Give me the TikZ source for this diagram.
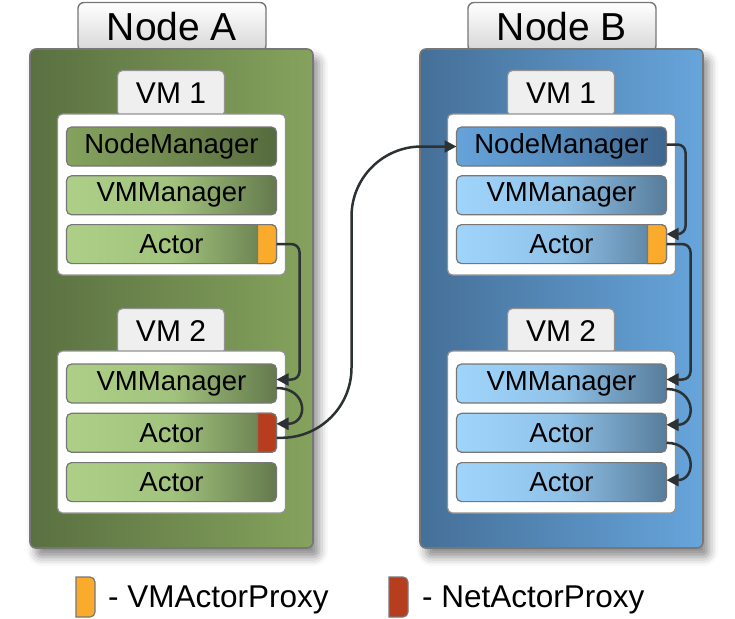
\documentclass[tikz,border=0pt]{standalone}
\usepackage{fontspec}
\setmainfont{Liberation Sans}
\usetikzlibrary{arrows.meta,positioning,shadows.blur}
\definecolor{frameGray}{HTML}{777777}
\definecolor{linkGray}{HTML}{2C3133}
\definecolor{vmTab}{HTML}{EFEFEF}
\definecolor{hostGreenL}{HTML}{5A7041}
\definecolor{hostGreenR}{HTML}{85A35D}
\definecolor{hostBlueL}{HTML}{456F97}
\definecolor{hostBlueR}{HTML}{67A5DC}
\definecolor{greenHiL}{HTML}{84A35E}
\definecolor{greenHiM}{HTML}{71894F}
\definecolor{greenHiR}{HTML}{566B3E}
\definecolor{greenLoL}{HTML}{ADCF87}
\definecolor{greenLoM}{HTML}{A2C37D}
\definecolor{greenLoR}{HTML}{64794C}
\definecolor{blueHiL}{HTML}{66A3DA}
\definecolor{blueHiM}{HTML}{558BBD}
\definecolor{blueHiR}{HTML}{3F668D}
\definecolor{blueLoL}{HTML}{A0D5FB}
\definecolor{blueLoM}{HTML}{90C2E8}
\definecolor{blueLoR}{HTML}{577C9B}
\definecolor{proxyOrange}{HTML}{FBAB2C}
\definecolor{proxyRed}{HTML}{B73D1F}
\tikzset{
  host box/.style={draw=frameGray, line width=1.6pt, rounded corners=6pt,
    minimum width=283pt, minimum height=499pt, outer sep=0pt,
    blur shadow={shadow xshift=6pt, shadow yshift=-9pt,
      shadow blur radius=9pt, shadow opacity=45}},
  green host/.style={host box, left color=hostGreenL, right color=hostGreenR},
  blue host/.style={host box, left color=hostBlueL, right color=hostBlueR},
  host tab/.style={draw=frameGray, line width=1.4pt, rounded corners=6pt,
    top color=white, bottom color=black!16, minimum width=188pt,
    minimum height=49pt, outer sep=0pt, font=\fontsize{39}{44}\selectfont},
  vm box/.style={draw=frameGray!80, line width=1.2pt, fill=white,
    rounded corners=5pt, minimum width=228pt, outer sep=0pt},
  vm tab/.style={draw=frameGray!80, line width=1.2pt, fill=vmTab,
    rounded corners=5pt, minimum width=107pt, minimum height=46pt,
    outer sep=0pt, font=\fontsize{30}{34}\selectfont},
  unit/.style={draw=frameGray, line width=1.2pt, rounded corners=5pt,
    minimum width=210pt, minimum height=39pt, inner sep=0pt, outer sep=0pt,
    font=\fontsize{27.5}{31}\selectfont},
  green hi/.style={unit, left color=greenHiL, right color=greenHiR, middle color=greenHiM},
  green lo/.style={unit, left color=greenLoL, right color=greenLoR, middle color=greenLoM},
  blue hi/.style={unit, left color=blueHiL, right color=blueHiR, middle color=blueHiM},
  blue lo/.style={unit, left color=blueLoL, right color=blueLoR, middle color=blueLoM},
  proxy/.style={draw=frameGray, line width=1.2pt},
  key mark/.style={minimum width=19pt, minimum height=40pt, inner sep=0pt, outer sep=0pt},
  key text/.style={font=\fontsize{31.5}{35}\selectfont, inner sep=0pt, text depth=0pt},
  link/.style={-{Triangle[length=12pt,width=12pt]}, line width=2.5pt, draw=linkGray}
}
% proxy tab on the right end of a unit
\newcommand{\proxymark}[2]{%
  \draw[proxy, fill=#2] ([xshift=-19pt]#1.north east) -- ([xshift=-5pt]#1.north east)
    arc[start angle=90, end angle=0, radius=5pt] -- ([yshift=5pt]#1.south east)
    arc[start angle=0, end angle=-90, radius=5pt] -- ([xshift=-19pt]#1.south east) -- cycle;}
\begin{document}
\begin{tikzpicture}[x=1pt, y=1pt, node distance=9.8pt]
  \useasboundingbox (0,0) rectangle (735,-618);
  % Node A
  \node[host tab] (tabA) at (172,-27) {Node A};
  \node[green host] (hostA) at (171.5,-298.5) {};
  \node[vm tab] (vmtabA1) at (171,-93.5) {VM 1};
  \node[vm box, minimum height=161pt, below=65pt of hostA.north] (vmA1) {};
  \node[vm tab] (vmtabA2) at (171,-331.5) {VM 2};
  \node[vm box, minimum height=162pt, below=76pt of vmA1] (vmA2) {};
  \node[green hi, below=13pt of vmA1.north] (nmA1) {NodeManager};
  \node[green lo, below=of nmA1] (vmmA1) {VMManager};
  \node[green lo, below=of vmmA1] (actA1) {Actor};
  \node[green lo, below=13pt of vmA2.north] (vmmA2) {VMManager};
  \node[green lo, below=10.3pt of vmmA2] (actA2) {Actor};
  \node[green lo, below=10.3pt of actA2] (actA3) {Actor};
  \proxymark{actA1}{proxyOrange}
  \proxymark{actA2}{proxyRed}
  % Node B
  \node[host tab] (tabB) at (562,-27) {Node B};
  \node[blue host] (hostB) at (561.5,-298.5) {};
  \node[vm tab] (vmtabB1) at (561,-93.5) {VM 1};
  \node[vm box, minimum height=161pt, below=65pt of hostB.north] (vmB1) {};
  \node[vm tab] (vmtabB2) at (561,-331.5) {VM 2};
  \node[vm box, minimum height=162pt, below=76pt of vmB1] (vmB2) {};
  \node[blue hi, below=13pt of vmB1.north] (nmB1) {NodeManager};
  \node[blue lo, below=of nmB1] (vmmB1) {VMManager};
  \node[blue lo, below=of vmmB1] (actB1) {Actor};
  \node[blue lo, below=13pt of vmB2.north] (vmmB2) {VMManager};
  \node[blue lo, below=10.3pt of vmmB2] (actB2) {Actor};
  \node[blue lo, below=10.3pt of actB2] (actB3) {Actor};
  \proxymark{actB1}{proxyOrange}
  % messages
  \draw[link, rounded corners=8pt] (actA1.east) -- ++(23pt,0) |- ([yshift=4pt]vmmA2.east);
  \draw[link] ([yshift=-4.5pt]vmmA2.east) .. controls +(32pt,0) and +(32pt,0) .. ([yshift=9pt]actA2.east);
  \draw[link, rounded corners=70pt] ([yshift=-5pt]actA2.east) -- ++(75pt,0) |- (nmB1.west);
  \draw[link, rounded corners=8pt] ([yshift=2pt]nmB1.east) -- ++(19pt,0) |- ([yshift=10pt]actB1.east);
  \draw[link, rounded corners=8pt] (actB1.east) -- ++(24pt,0) |- ([yshift=4pt]vmmB2.east);
  \draw[link] ([yshift=-5.5pt]vmmB2.east) .. controls +(30pt,0) and +(30pt,0) .. ([yshift=8pt]actB2.east);
  \draw[link] ([yshift=-10pt]actB2.east) .. controls +(30pt,0) and +(30pt,0) .. ([yshift=2pt]actB3.east);
  % legend
  \node[key mark] (keyVM) at (85.5,-597) {};
  \proxymark{keyVM}{proxyOrange}
  \node[key text, right=13pt of keyVM] (keyVMtext) {- VMActorProxy};
  \node[key mark] (keyNet) at (398.5,-597) {};
  \proxymark{keyNet}{proxyRed}
  \node[key text, right=14pt of keyNet] (keyNettext) {- NetActorProxy};
\end{tikzpicture}
\end{document}
